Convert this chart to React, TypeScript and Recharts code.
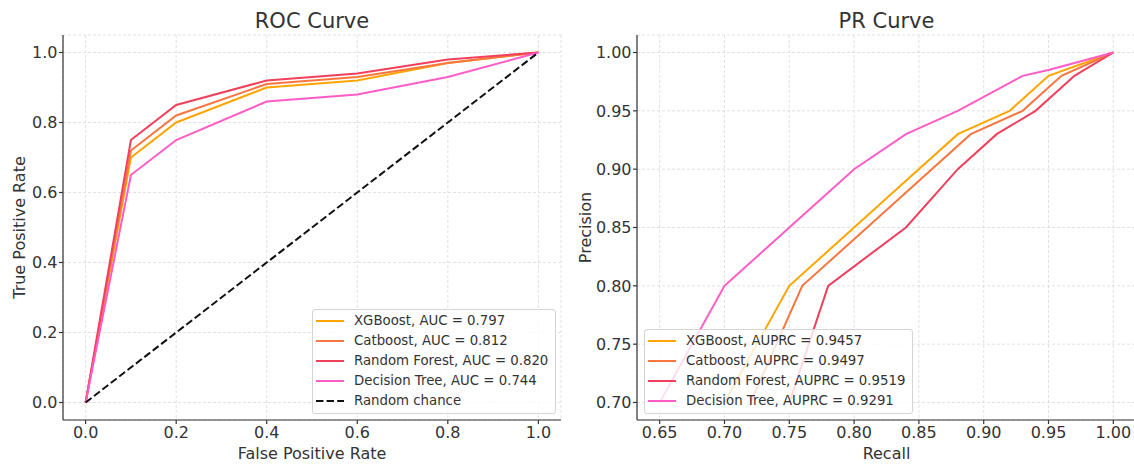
import React from 'react';
import { LineChart, Line, XAxis, YAxis, CartesianGrid } from 'recharts';

const FONT = '"DejaVu Sans", Verdana, sans-serif';
const TEXT = '#333333';

// ---------- ROC data ----------
const rocFpr = [0, 0.1, 0.2, 0.4, 0.6, 0.8, 1.0];
const rocXgbTpr = [0, 0.70, 0.80, 0.90, 0.92, 0.97, 1.0];
const rocCatTpr = [0, 0.72, 0.82, 0.91, 0.93, 0.97, 1.0];
const rocRfTpr = [0, 0.75, 0.85, 0.92, 0.94, 0.98, 1.0];
const rocDtTpr = [0, 0.65, 0.75, 0.86, 0.88, 0.93, 1.0];
const chanceX = [0, 1];
const chanceY = [0, 1];
const rocTicks = [0, 0.2, 0.4, 0.6, 0.8, 1.0];

// ---------- PR data ----------
const prXgbRecall = [0.70, 0.75, 0.80, 0.84, 0.88, 0.92, 0.95, 1.0];
const prXgbPrecision = [0.70, 0.80, 0.85, 0.89, 0.93, 0.95, 0.98, 1.0];
const prCatRecall = [0.72, 0.76, 0.80, 0.84, 0.89, 0.93, 0.96, 1.0];
const prCatPrecision = [0.70, 0.80, 0.84, 0.88, 0.93, 0.95, 0.98, 1.0];
const prRfRecall = [0.75, 0.78, 0.84, 0.88, 0.91, 0.94, 0.97, 1.0];
const prRfPrecision = [0.70, 0.80, 0.85, 0.90, 0.93, 0.95, 0.98, 1.0];
const prDtRecall = [0.65, 0.70, 0.75, 0.80, 0.84, 0.88, 0.93, 0.95, 1.0];
const prDtPrecision = [0.70, 0.80, 0.85, 0.90, 0.93, 0.95, 0.98, 0.985, 1.0];
const prXTicks = [0.65, 0.70, 0.75, 0.80, 0.85, 0.90, 0.95, 1.00];
const prYTicks = [0.70, 0.75, 0.80, 0.85, 0.90, 0.95, 1.00];

// ---------- labels ----------
const models = ['XGBoost', 'Catboost', 'Random Forest', 'Decision Tree'];
const aucValues = ['0.797', '0.812', '0.820', '0.744'];
const auprcValues = ['0.9457', '0.9497', '0.9519', '0.9291'];
const colors = ['#FFA500', '#F8763F', '#F0405C', '#FF5CC8'];

const zip = (xs: number[], ys: number[]) => xs.map((x, i) => ({ x, y: ys[i] }));

const rocSeries = [rocXgbTpr, rocCatTpr, rocRfTpr, rocDtTpr].map((t) => zip(rocFpr, t));
const prSeries = [
  zip(prXgbRecall, prXgbPrecision),
  zip(prCatRecall, prCatPrecision),
  zip(prRfRecall, prRfPrecision),
  zip(prDtRecall, prDtPrecision),
];

const tickStyle = { fill: TEXT, fontSize: 16, fontFamily: FONT };
const axisLineStyle = { stroke: '#333', strokeWidth: 1.2 };
const DASH = '7.4 3.2';

type LegendItem = { label: string; color: string; dashed?: boolean };

function LegendBox({ left, top, width, items }: { left: number; top: number; width: number; items: LegendItem[] }) {
  return (
    <div
      style={{
        position: 'absolute',
        left,
        top,
        width,
        boxSizing: 'border-box',
        border: '1px solid #d4d4d4',
        borderRadius: 3,
        background: 'rgba(255,255,255,0.8)',
        padding: '1px 0 2px 0',
        fontFamily: FONT,
        fontSize: 13.3,
        color: TEXT,
      }}
    >
      {items.map((it) => (
        <div key={it.label} style={{ height: 20, display: 'flex', alignItems: 'center' }}>
          <svg width={28} height={4} style={{ marginLeft: 3, marginRight: 10, flex: 'none' }}>
            <line
              x1={0}
              y1={2}
              x2={28}
              y2={2}
              stroke={it.color}
              strokeWidth={2}
              strokeDasharray={it.dashed ? DASH : undefined}
            />
          </svg>
          <span style={{ whiteSpace: 'nowrap', lineHeight: '20px' }}>{it.label}</span>
        </div>
      ))}
    </div>
  );
}

export default function App() {
  const rocLegend: LegendItem[] = models
    .map((m, i) => ({ label: `${m}, AUC = ${aucValues[i]}`, color: colors[i] }))
    .concat([{ label: 'Random chance', color: '#111', dashed: true }]);
  const prLegend: LegendItem[] = models.map((m, i) => ({
    label: `${m}, AUPRC = ${auprcValues[i]}`,
    color: colors[i],
  }));

  return (
    <div
      style={{
        position: 'absolute',
        left: 0,
        top: 0,
        width: 1134,
        height: 464,
        overflow: 'hidden',
        background: '#fff',
      }}
    >
      <div style={{ position: 'absolute', left: 0, top: 0 }}>
        <LineChart width={570} height={464} margin={{ top: 35, right: 9, bottom: 14, left: 0 }}>
          <CartesianGrid stroke="#d9d9d9" strokeDasharray="3 2" strokeWidth={0.8} />
          <XAxis
            dataKey="x"
            type="number"
            domain={[-0.05, 1.05]}
            ticks={rocTicks}
            interval={0}
            allowDataOverflow
            tickFormatter={(v: number) => v.toFixed(1)}
            tick={tickStyle}
            tickSize={4}
            tickMargin={3}
            height={30}
            axisLine={axisLineStyle}
            tickLine={axisLineStyle}
          />
          <YAxis
            dataKey="y"
            type="number"
            domain={[-0.05, 1.05]}
            ticks={rocTicks}
            interval={0}
            allowDataOverflow
            tickFormatter={(v: number) => v.toFixed(1)}
            tick={tickStyle}
            tickSize={4}
            tickMargin={1.5}
            width={63}
            axisLine={axisLineStyle}
            tickLine={axisLineStyle}
          />
          {rocSeries.map((d, i) => (
            <Line
              key={models[i]}
              data={d}
              dataKey="y"
              type="linear"
              stroke={colors[i]}
              strokeWidth={2}
              dot={false}
              activeDot={false}
              isAnimationActive={false}
            />
          ))}
          <Line
            data={zip(chanceX, chanceY)}
            dataKey="y"
            type="linear"
            stroke="#111"
            strokeWidth={2}
            strokeDasharray={DASH}
            dot={false}
            activeDot={false}
            isAnimationActive={false}
          />
        </LineChart>
      </div>

      <div style={{ position: 'absolute', left: 570, top: 0 }}>
        <LineChart width={572} height={464} margin={{ top: 35, right: 6, bottom: 14, left: 0 }}>
          <CartesianGrid stroke="#d9d9d9" strokeDasharray="3 2" strokeWidth={0.8} />
          <XAxis
            dataKey="x"
            type="number"
            domain={[0.6325, 1.0175]}
            ticks={prXTicks}
            interval={0}
            allowDataOverflow
            tickFormatter={(v: number) => v.toFixed(2)}
            tick={tickStyle}
            tickSize={4}
            tickMargin={3}
            height={30}
            axisLine={axisLineStyle}
            tickLine={axisLineStyle}
          />
          <YAxis
            dataKey="y"
            type="number"
            domain={[0.685, 1.015]}
            ticks={prYTicks}
            interval={0}
            allowDataOverflow
            tickFormatter={(v: number) => v.toFixed(2)}
            tick={tickStyle}
            tickSize={4}
            tickMargin={1.5}
            width={67}
            axisLine={axisLineStyle}
            tickLine={axisLineStyle}
          />
          {prSeries.map((d, i) => (
            <Line
              key={models[i]}
              data={d}
              dataKey="y"
              type="linear"
              stroke={colors[i]}
              strokeWidth={2}
              dot={false}
              activeDot={false}
              isAnimationActive={false}
            />
          ))}
        </LineChart>
      </div>

      <svg
        width={1134}
        height={464}
        style={{ position: 'absolute', left: 0, top: 0, pointerEvents: 'none' }}
        fontFamily={FONT}
        fill={TEXT}
      >
        <text x={312} y={28} textAnchor="middle" fontSize={21}>ROC Curve</text>
        <text x={886.5} y={28} textAnchor="middle" fontSize={21}>PR Curve</text>
        <text x={312} y={459} textAnchor="middle" fontSize={16}>False Positive Rate</text>
        <text x={886.5} y={459} textAnchor="middle" fontSize={16}>Recall</text>
        <text transform="translate(24.5,227.5) rotate(-90)" textAnchor="middle" fontSize={16}>
          True Positive Rate
        </text>
        <text transform="translate(591,227.5) rotate(-90)" textAnchor="middle" fontSize={16}>
          Precision
        </text>
      </svg>

      <LegendBox left={312} top={309} width={244} items={rocLegend} />
      <LegendBox left={644} top={329} width={269} items={prLegend} />
    </div>
  );
}
